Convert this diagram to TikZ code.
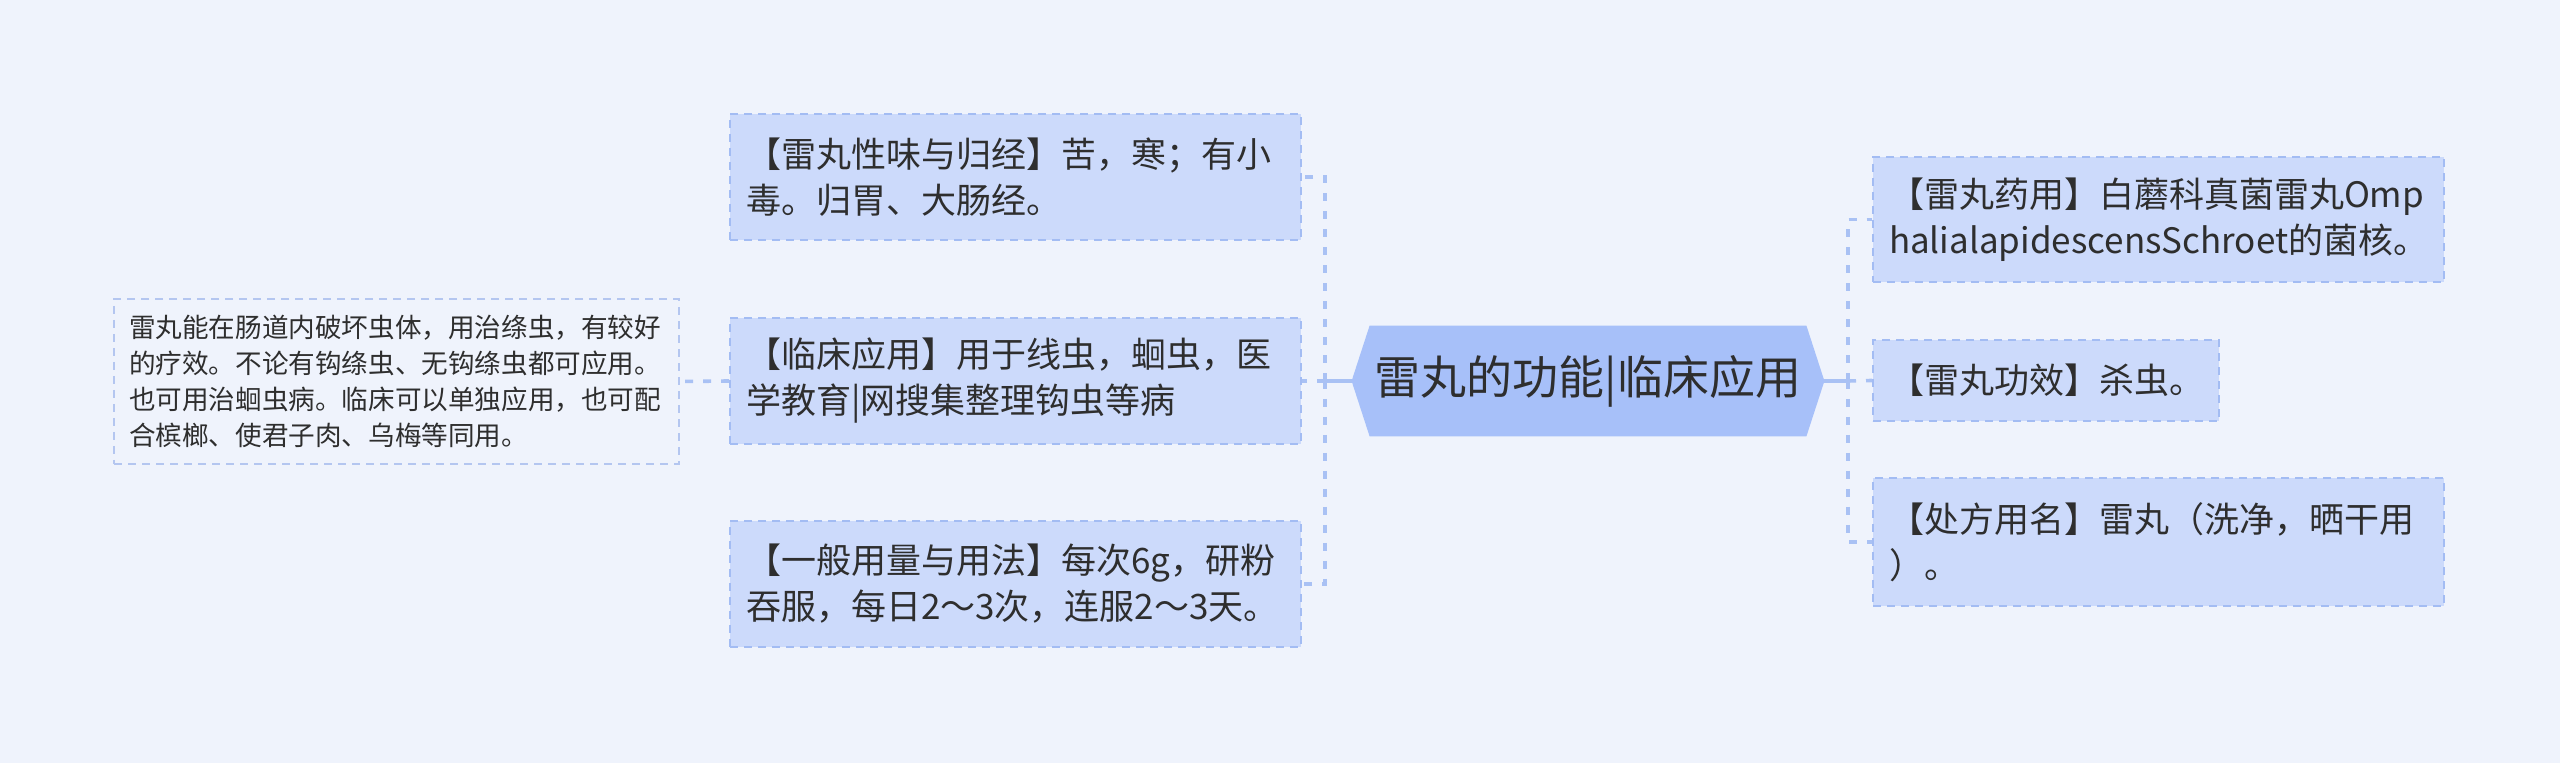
\documentclass[tikz,border=0pt]{standalone}
\usepackage{fontspec}
\setmainfont{Noto Sans CJK SC}
\usetikzlibrary{backgrounds}
\definecolor{bgcol}{HTML}{EFF3FC}
\definecolor{boxfill}{HTML}{CCDAFB}
\definecolor{boxline}{HTML}{A3BCF3}
\definecolor{farline}{HTML}{B4C6F0}
\definecolor{rootfill}{HTML}{A7C0F9}
\definecolor{linkcol}{HTML}{A9C1F4}
\definecolor{txt}{HTML}{2E2E2E}
\begin{document}
\begin{tikzpicture}[x=1pt,y=-1pt,
	leaf/.style={draw=boxline,fill=boxfill,dash pattern=on 4pt off 3pt,line width=0.9pt,text=txt,font=\fontsize{17.5}{23}\selectfont,align=left,inner xsep=8pt,inner ysep=0pt},
	farleaf/.style={leaf,draw=farline,fill=none,font=\fontsize{13.3}{18}\selectfont,inner xsep=7.5pt},
	link/.style={draw=linkcol,line width=1.8pt},
	dlink/.style={link,dash pattern=on 4pt off 5pt}]
	\node[text=txt,font=\fontsize{23}{27}\selectfont,minimum width=218pt,minimum height=55pt,inner sep=0pt] (root) at (794,190.5) {雷丸的功能|临床应用};
	\begin{pgfonlayer}{background}
		\fill[bgcol] (0,0) rectangle (1280,381.5);
		\fill[rootfill] ([xshift=-9pt]root.west) -- (root.north west) -- (root.north east) -- ([xshift=9pt]root.east) -- (root.south east) -- (root.south west) -- cycle;
	\end{pgfonlayer}
	%LEFT
	\node[leaf,text width=269.5pt,minimum height=63pt] (L1) at (507.75,88.5) {【雷丸性味与归经】苦，寒；有小\\毒。归胃、大肠经。};
	\node[leaf,text width=269.5pt,minimum height=63pt] (L2) at (507.75,190.5) {【临床应用】用于线虫，蛔虫，医\\学教育|网搜集整理钩虫等病};
	\node[leaf,text width=269.5pt,minimum height=63pt] (L3) at (507.75,292) {【一般用量与用法】每次6g，研粉\\吞服，每日2～3次，连服2～3天。};
	\node[farleaf,text width=267.5pt,minimum height=82.5pt] (far) at (198.25,190.75) {雷丸能在肠道内破坏虫体，用治绦虫，有较好\\的疗效。不论有钩绦虫、无钩绦虫都可应用。\\也可用治蛔虫病。临床可以单独应用，也可配\\合槟榔、使君子肉、乌梅等同用。};
	\coordinate (ltrunk) at (662.5,190.5);
	\draw[link] ([xshift=-9pt]root.west) -- (ltrunk);
	\draw[dlink] (ltrunk) -- (L2.east);
	\draw[dlink] (ltrunk) |- (L1.east);
	\draw[dlink] (ltrunk) |- (L3.east);
	\draw[dlink] (L2.west) -- (far.east);
	%RIGHT
	\node[leaf,text width=269.5pt,minimum height=62.5pt] (R1) at (1079.25,109.75) {【雷丸药用】白蘑科真菌雷丸Omp\\halialapidescensSchroet的菌核。};
	\node[leaf,text width=157pt,minimum height=40.5pt] (R2) at (1023,190.25) {【雷丸功效】杀虫。};
	\node[leaf,text width=269.5pt,minimum height=64pt] (R3) at (1079.25,271) {【处方用名】雷丸（洗净，晒干用\\）。};
	\coordinate (rtrunk) at (924,190.5);
	\draw[link] ([xshift=9pt]root.east) -- (rtrunk);
	\draw[dlink] (rtrunk) -- (R2.west);
	\draw[dlink] (rtrunk) |- (R1.west);
	\draw[dlink] (rtrunk) |- (R3.west);
\end{tikzpicture}
\end{document}
